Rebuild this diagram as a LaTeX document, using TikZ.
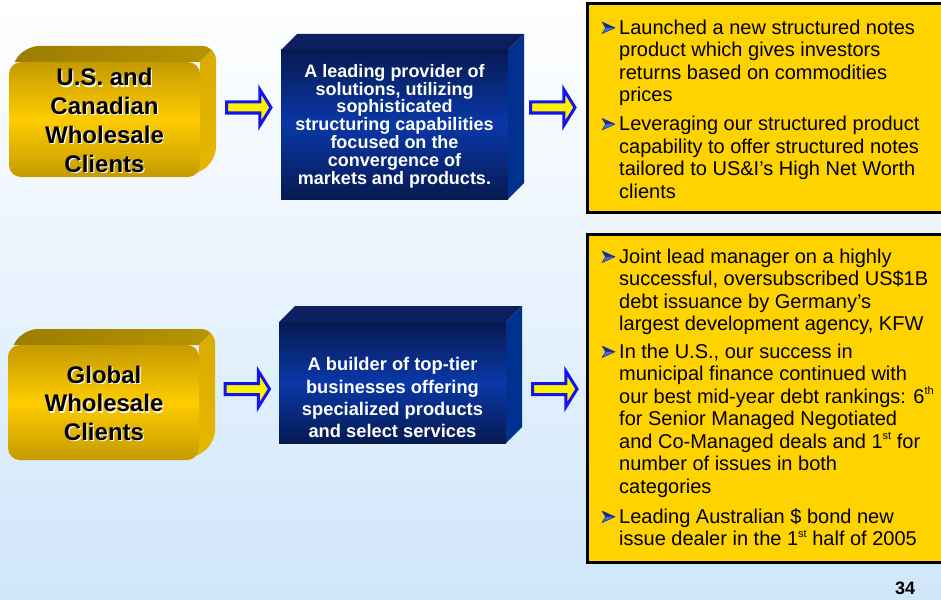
\documentclass[tikz,border=0pt]{standalone}
\usepackage{fontspec}
\setmainfont{Liberation Sans}
\usetikzlibrary{calc}
\definecolor{bgblue}{HTML}{D0E6FA}
\definecolor{ytop}{HTML}{9A7C00}
\definecolor{ytopr}{HTML}{B89400}
\definecolor{yside}{HTML}{D8AC00}
\definecolor{ysideb}{HTML}{E8B800}
\definecolor{yfdark}{HTML}{C49A00}
\definecolor{yflight}{HTML}{FFCC00}
\definecolor{bdark}{HTML}{061A50}
\definecolor{bmid}{HTML}{0A38A8}
\definecolor{btop}{HTML}{0C1F5E}
\definecolor{bside}{HTML}{00318F}
\definecolor{arrowblue}{HTML}{1414F0}
\definecolor{noteyellow}{HTML}{FFD300}
\definecolor{bulletdark}{HTML}{142E8C}
\definecolor{bulletlight}{HTML}{4A6FD8}
\newcommand\mysup[1]{\raisebox{8.5pt}{\fontsize{11}{11}\selectfont #1}}
\newcommand\myArrow[2]{%
  \draw[barrow] (#1+1.5,#2-5.5) -- (#1+34.8,#2-5.5) -- (#1+34.8,#2-18)
    -- (#1+46,#2) -- (#1+34.8,#2+18) -- (#1+34.8,#2+5.5) -- (#1+1.5,#2+5.5) -- cycle;}
\newcommand\myBullet[2]{%
  \fill[bulletdark] (#1,#2-5.8) -- (#1+13,#2) -- (#1+3.6,#2) -- cycle;
  \fill[bulletlight] (#1+3.6,#2) -- (#1+13,#2) -- (#1,#2+5.8) -- cycle;
  \draw[bulletdark, line width=0.5pt, line join=round] (#1,#2-5.8) -- (#1+13,#2) -- (#1,#2+5.8) -- (#1+3.6,#2) -- cycle;}
\tikzset{
  frame/.style={inner sep=0pt, outer sep=0pt},
  yfront/.style={top color=yfdark, bottom color=yfdark, middle color=yflight},
  bfront/.style={top color=bdark, bottom color=bdark, middle color=bmid},
  ylabel/.style={inner sep=0pt, font=\bfseries\fontsize{24}{28.8}\selectfont},
  blabel/.style={inner sep=0pt, text=white, font=\bfseries\fontsize{18}{17.8}\selectfont},
  blabelb/.style={inner sep=0pt, text=white, font=\bfseries\fontsize{18.3}{22.3}\selectfont},
  barrow/.style={fill=yellow, draw=arrowblue, line width=3pt, line join=miter},
  notebox/.style={fill=noteyellow, draw=black, line width=3pt},
  notetext/.style={inner sep=0pt, anchor=base west, font=\fontsize{20}{22.5}\selectfont},
}
\begin{document}
\begin{tikzpicture}[x=1pt,y=-1pt]
\useasboundingbox (0,0) rectangle (941,599);
\shade[top color=white, bottom color=bgblue] (0,0) rectangle (941,599);

% ---------- yellow 3D boxes ----------
\foreach \nm/\cx/\cy in {usc/104.5/119.5, glob/103.5/402.5} {
  \node[frame, minimum width=191pt, minimum height=115pt] (\nm) at (\cx,\cy) {};
  \begin{scope}
    \clip[rounded corners=14pt] ($(\nm.south west)+(0,0)$) -- ($(\nm.north west)+(0,8)$)
      -- ($(\nm.north west)+(16,-16)$) -- ($(\nm.north east)+(16,-16)$)
      -- ($(\nm.south east)+(16,-16)$) -- ($(\nm.south east)+(-8,0)$) -- cycle;
    \shade[left color=ytop, right color=ytopr] ($(\nm.north west)+(-4,4)$) -- ($(\nm.north west)+(16,-16)$)
      -- ($(\nm.north east)+(16,-16)$) -- ($(\nm.north east)+(0,0)$) -- ($(\nm.north west)+(0,0)$) -- cycle;
    \shade[top color=yside, bottom color=ysideb] (\nm.north east) -- ($(\nm.north east)+(16,-16)$)
      -- ($(\nm.south east)+(16,-16)$) -- ($(\nm.south east)+(-4,4)$) -- cycle;
  \end{scope}
  \shade[yfront, rounded corners=12pt] (\nm.south west) rectangle (\nm.north east);
}
\node[ylabel, anchor=base, text=white] (usctxs) at (105.7,87.2)
  {\parbox[t]{190pt}{\centering U.S. and\\Canadian\\Wholesale\\Clients}};
\node[ylabel, anchor=base] (usctx) at (104.5,86)
  {\parbox[t]{190pt}{\centering U.S. and\\Canadian\\Wholesale\\Clients}};
\node[ylabel, anchor=base, text=white] (globtxs) at (105.2,384.2)
  {\parbox[t]{190pt}{\centering Global\\Wholesale\\Clients}};
\node[ylabel, anchor=base] (globtx) at (104,383)
  {\parbox[t]{190pt}{\centering Global\\Wholesale\\Clients}};

% ---------- blue 3D boxes ----------
\foreach \nm/\cx/\cy/\h in {prov/394.5/124.5/149, build/392.5/382.5/121} {
  \node[frame, minimum width=227pt, minimum height=\h pt] (\nm) at (\cx,\cy) {};
  \fill[btop] (\nm.north west) -- ($(\nm.north west)+(16,-16)$)
    -- ($(\nm.north east)+(16,-16)$) -- (\nm.north east) -- cycle;
  \fill[bside] (\nm.north east) -- ($(\nm.north east)+(16,-16)$)
    -- ($(\nm.south east)+(16,-16)$) -- (\nm.south east) -- cycle;
  \shade[bfront] (\nm.south west) rectangle (\nm.north east);
}
\node[blabel, anchor=base] (provtx) at (394.5,77.3)
  {\parbox[t]{225pt}{\centering A leading provider of\\solutions, utilizing\\sophisticated\\structuring capabilities\\focused on the\\convergence of\\markets and products.}};
\node[blabelb, anchor=base] (buildtx) at (392.5,370.7)
  {\parbox[t]{225pt}{\centering A builder of top-tier\\businesses offering\\specialized products\\and select services}};

% ---------- block arrows ----------
\myArrow{225}{107.5}
\myArrow{529}{107.5}
\myArrow{223.5}{389}
\myArrow{531}{389}

% ---------- note boxes ----------
\draw[notebox] (587,4) rectangle (946,212);
\node[frame] (note1) at (766.5,108) {};
\draw[notebox] (587,234) rectangle (946,562);
\node[frame] (note2) at (766.5,398) {};

\myBullet{602}{27.8}
\node[notetext] (t11) at (619,34.3)
  {\parbox[t]{320pt}{\raggedright Launched a new structured notes\\product which gives investors\\returns based on commodities\\prices}};
\myBullet{602}{124.2}
\node[notetext] (t12) at (619,130.7)
  {\parbox[t]{320pt}{\raggedright Leveraging our structured product\\capability to offer structured notes\\tailored to US\&I’s High Net Worth\\clients}};

\myBullet{602}{256.8}
\node[notetext] (t21) at (619,263.3)
  {\parbox[t]{320pt}{\raggedright Joint lead manager on a highly\\successful, oversubscribed US\$1B\\debt issuance by Germany’s\\largest development agency, KFW}};
\myBullet{602}{351.8}
\node[notetext] (t22) at (619,358.3)
  {\parbox[t]{320pt}{\raggedright In the U.S., our success in\\municipal finance continued with\\our best mid-year debt rankings: 6\mysup{th}\\for Senior Managed Negotiated\\and Co-Managed deals and 1\mysup{st} for\\number of issues in both\\categories}};
\myBullet{602}{516.8}
\node[notetext] (t23) at (619,523.3)
  {\parbox[t]{320pt}{\raggedright Leading Australian \$ bond new\\issue dealer in the 1\mysup{st} half of 2005}};

\node[inner sep=0pt, anchor=base, font=\bfseries\fontsize{18}{18}\selectfont] (pg) at (905,594) {34};
\end{tikzpicture}
\end{document}
